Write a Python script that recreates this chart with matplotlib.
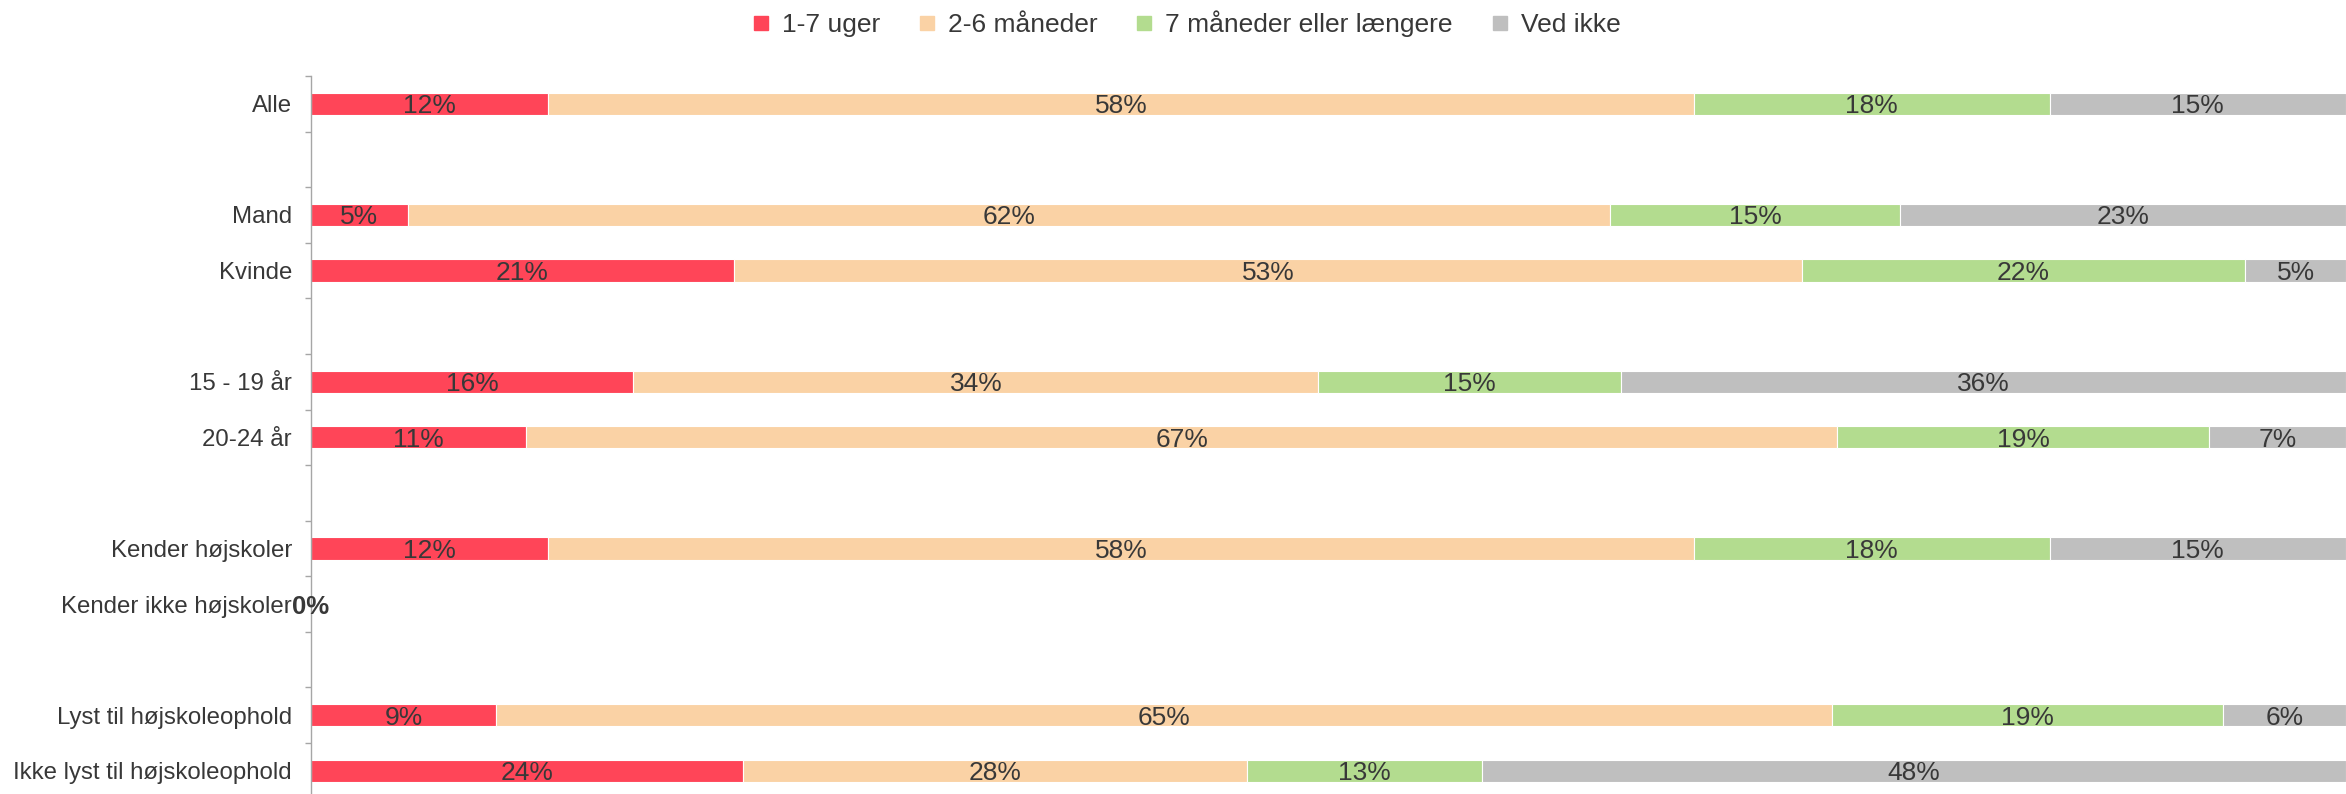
import matplotlib
matplotlib.use("Agg")
import matplotlib.pyplot as plt
from matplotlib.lines import Line2D

plt.rcParams['font.family'] = ['Liberation Sans', 'DejaVu Sans']

# Rows top to bottom, empty strings are spacer rows
categories = ["Alle", "", "Mand", "Kvinde", "", "15 - 19 år", "20-24 år", "",
              "Kender højskoler", "Kender ikke højskoler", "",
              "Lyst til højskoleophold", "Ikke lyst til højskoleophold"]

series_names = ["1-7 uger", "2-6 måneder", "7 måneder eller længere", "Ved ikke"]
uger_1_7 = [12, None, 5, 21, None, 16, 11, None, 12, 0, None, 9, 24]
maaneder_2_6 = [58, None, 62, 53, None, 34, 67, None, 58, 0, None, 65, 28]
maaneder_7_plus = [18, None, 15, 22, None, 15, 19, None, 18, 0, None, 19, 13]
ved_ikke = [15, None, 23, 5, None, 36, 7, None, 15, 0, None, 6, 48]

colors = ["#FF4558", "#FAD2A5", "#B3DC8F", "#BFBFBF"]
text_color = "#383838"
tick_fs = 17.3
label_fs = 19

series = [uger_1_7, maaneder_2_6, maaneder_7_plus, ved_ikke]

fig = plt.figure(figsize=(23.46, 7.94), dpi=100)
ax = fig.add_axes([311 / 2346, -0.0058, 1 - 311 / 2346, 0.9043 + 0.0058])

n = len(categories)
for i in range(n):
    vals = [s[i] for s in series]
    if vals[0] is None:
        continue
    total = sum(vals)
    if total == 0:
        # empty group: all labels pile up at zero
        ax.text(0, i, "0%", ha="center", va="center_baseline", fontsize=18.5,
                color=text_color, fontweight="bold")
        continue
    # 100% stacked: each bar normalised by its own total
    left = 0.0
    for v, c in zip(vals, colors):
        w = v / total * 100
        ax.barh(i, w, left=left, height=0.4, color=c, edgecolor="white",
                linewidth=0.8)
        ax.text(left + w / 2, i, f"{v}%", ha="center", va="center_baseline",
                fontsize=label_fs, color=text_color)
        left += w

ax.set_xlim(0, 100)
ax.set_ylim(n - 0.5, -0.5)
ax.set_yticks(range(n))
ax.set_yticklabels(categories, fontsize=tick_fs, color=text_color)
ax.set_yticks([k - 0.5 for k in range(n + 1)], minor=True)
ax.tick_params(axis="y", which="major", length=0, pad=13.7)
ax.tick_params(axis="y", which="minor", length=4.3, color="#A6A6A6", width=1)
ax.set_xticks([])
for side in ["top", "right", "bottom"]:
    ax.spines[side].set_visible(False)
ax.spines["left"].set_color("#A6A6A6")
ax.spines["left"].set_linewidth(1)

handles = [Line2D([], [], marker="s", linestyle="none", markersize=10,
                  markerfacecolor=c, markeredgecolor=c) for c in colors]
fig.legend(handles, series_names, loc="center", bbox_to_anchor=(0.5055, 0.97),
           ncol=4, frameon=False, fontsize=label_fs, handlelength=0.7,
           handletextpad=0.45, columnspacing=1.42, labelcolor=text_color)

fig.savefig("out.png", dpi=100)
